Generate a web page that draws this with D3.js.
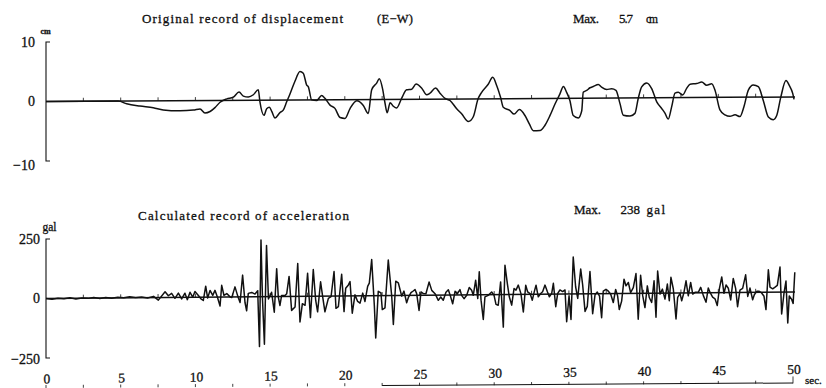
<!DOCTYPE html>
<html><head><meta charset="utf-8">
<script src="https://cdn.jsdelivr.net/npm/d3@7"></script>
<style>
html,body{margin:0;padding:0;background:#fff;}
svg{display:block;}
text{font-family:"Liberation Serif","Times New Roman",serif;fill:#111;stroke:#111;stroke-width:0.3px;}
</style></head>
<body><svg id="c" width="826" height="388"></svg>
<script>
// ---------- data ----------
const timeTicks = [0,5,10,15,20,25,30,35,40,45,50];
const minorTicks = d3.range(0, 50.01, 2.5);
const dispTicks = [10, 0, -10];
const accTicks = [250, 0, -250];
const dispTitle = "Original record of displacement";
const dispDir = "(E−W)";
const dispMax = ["Max.", "5.7", "cm"];
const accTitle = "Calculated record of acceleration";
const accMax = ["Max.", "238", "gal"];

// displacement (cm) [time sec, value]
const displacement = [[0,0],[4.84,0],[5.40,-0.47],[6.29,-0.87],[7.18,-1.15],[7.85,-1.54],[8.97,-1.7],[9.86,-1.6],[10.31,-1.4],[10.64,-2.1],[10.98,-1.85],[11.31,-1.2],[11.65,-0.3],[12.10,0.25],[12.54,0.54],[12.92,1.38],[13.21,0.7],[13.54,0.54],[13.88,0.92],[14.21,1.76],[14.32,-0.3],[14.59,-2.55],[14.77,-1.43],[14.95,-1.2],[15.11,-1.9],[15.33,-3.0],[15.66,-2.1],[15.88,-1.7],[16.11,-0.3],[16.33,1.0],[16.67,3.2],[17.00,4.8],[17.22,4.5],[17.45,2.5],[17.56,2.2],[17.78,0],[18.12,-0.1],[18.45,0.72],[18.67,0.25],[19.01,-0.9],[19.34,-1.45],[19.68,-3.0],[20.01,-3.15],[20.35,-1.5],[20.80,-0.2],[21.24,-1.0],[21.57,-2.35],[21.80,1.65],[22.13,2.75],[22.31,3.5],[22.54,1.65],[22.69,-0.6],[22.84,-2.25],[23.03,-0.55],[23.25,-1.15],[23.47,-1.45],[23.81,0.2],[24.14,1.6],[24.48,1.7],[24.77,2.55],[25.15,1.85],[25.48,0.75],[25.70,1.0],[26.08,1.85],[26.37,1.0],[26.71,0.1],[27.04,-0.25],[27.49,-1.65],[27.82,-2.5],[28.27,-3.8],[28.60,-3.0],[28.92,0],[29.16,1.1],[29.60,2.45],[29.90,3.6],[30.17,2.2],[30.43,0.2],[30.61,-1.45],[31.06,-2.0],[31.33,-2.6],[31.68,-1.85],[32.06,-2.85],[32.35,-4.25],[32.62,-5.4],[33.07,-5.4],[33.40,-4.5],[33.73,-2.9],[34.07,-0.95],[34.40,0.75],[34.63,2.0],[34.85,1.0],[35.07,-0.4],[35.29,-2.9],[35.63,-3.3],[35.86,-2.1],[35.96,1.0],[36.19,1.3],[36.41,1.75],[36.63,1.95],[36.97,2.3],[37.19,1.85],[37.53,1.45],[37.86,1.55],[38.15,1.3],[38.42,-0.95],[38.64,-2.9],[39.09,-3.05],[39.42,-2.6],[39.64,-0.1],[39.87,1.85],[40.21,2.5],[40.54,1.55],[40.88,-0.7],[41.21,-1.8],[41.43,-2.6],[41.65,-3.6],[41.88,-1.5],[42.10,0.75],[42.32,0.9],[42.62,0.45],[42.88,1.55],[43.11,2.25],[43.55,2.35],[43.89,2.6],[44.22,2.05],[44.56,2.3],[44.78,1.2],[45.11,-2.1],[45.45,-2.95],[45.78,-3.2],[46.12,-2.95],[46.45,-3.25],[46.72,-1.55],[47.01,1.2],[47.34,2.05],[47.68,1.75],[48.01,-0.55],[48.35,-3.35],[48.68,-3.8],[48.91,-3.1],[49.18,-0.05],[49.53,2.75],[49.75,1.95],[49.98,0.6],[50.07,-0.4]];

// acceleration (gal) [time sec, value]
const acceleration = [[0,0],[0.4,-3],[0.8,1],[1.2,-2],[1.6,2],[2.0,-3],[2.4,1],[2.8,-1],[3.2,3],[3.6,-2],[4.0,2],[4.4,-1],[4.8,3],[5.2,0],[5.6,4],[6.0,1],[6.4,3],[6.8,-2],[7.2,5],
[7.52,-11],[7.97,24],[8.19,7],[8.41,17],[8.63,-4],[8.86,18],[9.08,-7],[9.30,17],[9.46,-10],[9.64,21],[9.82,0],[9.97,24],[10.2,7],[10.37,-7],[10.53,-14],[10.69,46],[10.82,-4],[10.98,28],[11.16,7],[11.31,28],[11.47,0],[11.65,-38],[11.76,49],[11.91,7],[12.1,14],[12.32,0],
[12.43,-3],[12.65,42],[12.83,4],[12.99,-24],[13.16,91],[13.32,-24],[13.43,-59],[13.54,14],[13.77,18],[13.99,11],[14.17,25],[14.29,-210],[14.39,238],[14.49,-10],[14.62,-200],[14.76,215],[14.89,-10],[15.1,18],[15.28,-66],[15.44,117],[15.55,-3],[15.66,-38],[15.77,4],[16.0,4],[16.11,11],[16.27,84],[16.44,-59],[16.67,-45],[16.85,138],[17.0,-108],[17.16,-31],[17.34,-38],[17.51,96],[17.7,-90],[17.89,112],[18.05,-17],[18.18,-66],[18.38,60],[18.52,-3],[18.67,-66],[18.9,-10],[19.08,-3],[19.28,103],[19.41,-52],[19.57,-45],[19.79,91],[19.95,-66],[20.06,32],[20.24,46],[20.35,60],[20.5,-73],[20.68,4],[20.86,-24],[21.02,-31],[21.2,11],[21.35,-24],[21.53,39],[21.64,53],[21.8,152],[21.98,-45],[22.07,-178],[22.24,18],[22.42,11],[22.51,-59],[22.69,-52],[22.91,149],[23.14,-3],[23.25,-122],[23.41,60],[23.58,53],[23.81,-3],[23.96,18],[24.14,-31],[24.25,-10],[24.43,11],[24.58,18],
[24.70,24],[24.81,7],[24.97,-64],[25.1,14],[25.26,7],[25.43,6],[25.64,55],[25.82,20],[26.04,6],[26.26,-22],[26.42,-8],[26.59,-22],[26.77,12],[26.93,22],[27.09,-9],[27.22,-37],[27.38,15],[27.53,5],[27.71,22],[27.82,-2],[27.98,-16],[28.16,-2],[28.33,31],[28.49,19],[28.6,-2],[28.76,61],[28.9,-16],[29.0,96],[29.12,-23],[29.27,-104],[29.38,-9],[29.6,-3],[29.83,11],[29.99,-3],[30.12,-41],[30.27,-45],[30.43,53],[30.61,-137],[30.72,123],[30.88,46],[31.01,-10],[31.17,-45],[31.33,25],[31.46,18],[31.61,39],[31.79,3],[31.95,-74],[32.11,38],[32.24,10],[32.4,3],[32.55,-25],[32.68,10],[32.8,38],[32.95,-11],[33.11,3],[33.24,10],[33.4,38],[33.56,10],[33.69,-11],[33.85,3],[33.96,45],[34.12,-53],[34.25,3],[34.4,17],[34.58,10],[34.74,17],[34.85,-117],[35.01,-8],[35.14,-107],[35.29,155],[35.45,30],[35.59,-19],[35.79,104],[35.92,38],[36.08,-74],[36.23,-53],[36.41,93],[36.59,-84],[36.75,-4],[36.9,7],
[37.05,-10],[37.19,-101],[37.3,11],[37.48,18],[37.64,10],[37.8,-3],[37.97,-38],[38.13,17],[38.26,-10],[38.37,-67],[38.53,-32],[38.69,60],[38.82,32],[38.98,46],[39.13,3],[39.31,24],[39.49,83],[39.64,-109],[39.8,76],[39.94,-10],[40.09,-60],[40.25,31],[40.38,-18],[40.54,-39],[40.7,52],[40.83,-101],[40.94,93],[41.1,-4],[41.26,17],[41.43,-25],[41.59,38],[41.72,-32],[41.83,66],[41.99,17],[42.17,-109],[42.28,-18],[42.44,-2],[42.55,-33],[42.7,2],[42.84,51],[42.99,-12],[43.15,44],[43.29,-5],[43.44,2],[43.66,2],[43.82,23],[44.0,-12],[44.18,-40],[44.33,20],[44.44,2],[44.62,-19],[44.78,-26],[44.93,-54],[45.07,16],[45.23,66],[45.38,-3],[45.52,32],[45.67,18],[45.83,-31],[46.0,59],[46.16,17],[46.29,-60],[46.45,10],[46.63,17],[46.83,74],[46.97,-17],[47.12,18],[47.3,-31],[47.41,-10],[47.57,4],[47.74,4],[47.9,-3],[48.06,-17],[48.19,-73],[48.35,94],[48.46,21],[48.64,14],[48.8,21],[48.95,28],[49.13,105],[49.24,-92],[49.4,-3],[49.53,46],[49.65,-130],[49.75,-17],[49.91,-31],[50.01,-48],[50.12,83]];

// ---------- layout ----------
const svg = d3.select("#c");
svg.append("rect").attr("width",826).attr("height",388).attr("fill","#fff");
const ink = "#111";
const x = d3.scaleLinear().domain([0,50]).range([46,793]);
const yD = d3.scaleLinear().domain([-10,10]).range([161,42]);
const yA = d3.scaleLinear().domain([-250,250]).range([358,239]);
const x0 = x(0);

function panel(y, series, ticks, curve, skewDeg, labelRight, unit, unitPos, negDy) {
  const ax = svg.append("g");
  const [top, bot] = [y(ticks[0]), y(ticks[2])];
  ax.append("path")
    .attr("d", `M${x0+4},${top}H${x0}V${bot}H${x0+4}`)
    .attr("fill","none").attr("stroke",ink).attr("stroke-width",1.1);
  ax.selectAll("text.yl").data(ticks).join("text")
    .attr("class","yl")
    .attr("x", labelRight).attr("y", d => y(d) + (d < 0 ? negDy : 4.5))
    .attr("text-anchor","end").attr("font-size",14)
    .text(d => d < 0 ? "−" + Math.abs(d) : String(d));
  ax.append("text").attr("x",unitPos[0]).attr("y",unitPos[1])
    .attr("font-size",unit.size).attr("font-weight",unit.bold?"bold":"normal")
    .text(unit.text);

  const z = y(0);
  const g = svg.append("g")
    .attr("transform", `translate(${x0},${z}) skewY(${skewDeg}) translate(${-x0},${-z})`);
  g.append("line").attr("x1",x(0)).attr("x2",x(50)+2).attr("y1",z).attr("y2",z)
    .attr("stroke",ink).attr("stroke-width",1.5);
  g.selectAll("line.mt").data(minorTicks.filter(d => d>0 && d<50)).join("line")
    .attr("class","mt")
    .attr("x1",d=>x(d)).attr("x2",d=>x(d)).attr("y1",z).attr("y2",z-3.5)
    .attr("stroke",ink).attr("stroke-width",0.8);
  const line = d3.line().x(d=>x(d[0])).y(d=>y(d[1])).curve(curve);
  g.append("path").datum(series).attr("d",line)
    .attr("fill","none").attr("stroke",ink).attr("stroke-width",1.5)
    .attr("stroke-linejoin","round");
}

panel(yD, displacement, dispTicks, d3.curveMonotoneX, -0.35, 35,
      {text:"cm", size:8, bold:true}, [40.5, 33.5], 8.5);
panel(yA, acceleration, accTicks, d3.curveLinear, -0.5, 40,
      {text:"gal", size:11.5, bold:false}, [42.5, 231], 5.5);

function title(txt, xx, yy, len, fs) {
  const t = svg.append("text").attr("x",xx).attr("y",yy).attr("font-size",fs).text(txt);
  if (len) t.attr("textLength",len).attr("lengthAdjust","spacing");
}
title(dispTitle, 142, 22.5, 201, 13);
title(dispDir, 377, 22.5, 36, 12.5);
title(dispMax[0], 573, 22.5, 26, 13);
title(dispMax[1], 619, 22.5, 14, 13);
title(dispMax[2], 646, 22.5, 12, 11.5);
title(accTitle, 138, 219.5, 211, 13);
title(accMax[0], 574, 214, 27, 13);
title(accMax[1], 620.5, 214, 19.5, 13);
title(accMax[2], 646.5, 214, 18.5, 13);

const xa = svg.append("g")
  .attr("transform", `translate(${x0},0) skewY(-0.73) translate(${-x0},0)`);
xa.selectAll("text.xl").data(timeTicks).join("text")
  .attr("class","xl")
  .attr("x", d => x(d) + 1).attr("y", 383.5)
  .attr("text-anchor","middle").attr("font-size",13.5)
  .text(d => d);
const xb = svg.append("g")
  .attr("transform", `translate(${x0},0) skewY(-0.35) translate(${-x0},0)`);
xb.append("line").attr("x1",x(22.5)).attr("x2",x(50)).attr("y1",387.5).attr("y2",387.5)
  .attr("stroke",ink).attr("stroke-width",1);
xb.selectAll("line.bt").data(minorTicks).join("line")
  .attr("class","bt")
  .attr("x1",d=>x(d)).attr("x2",d=>x(d)).attr("y1",388).attr("y2",d=>d===50?381:385)
  .attr("stroke",ink).attr("stroke-width",0.8);
svg.append("text").attr("x",805).attr("y",384).attr("font-size",11)
  .attr("font-family","'DejaVu Sans Mono',monospace").text("sec.");
</script></body></html>
